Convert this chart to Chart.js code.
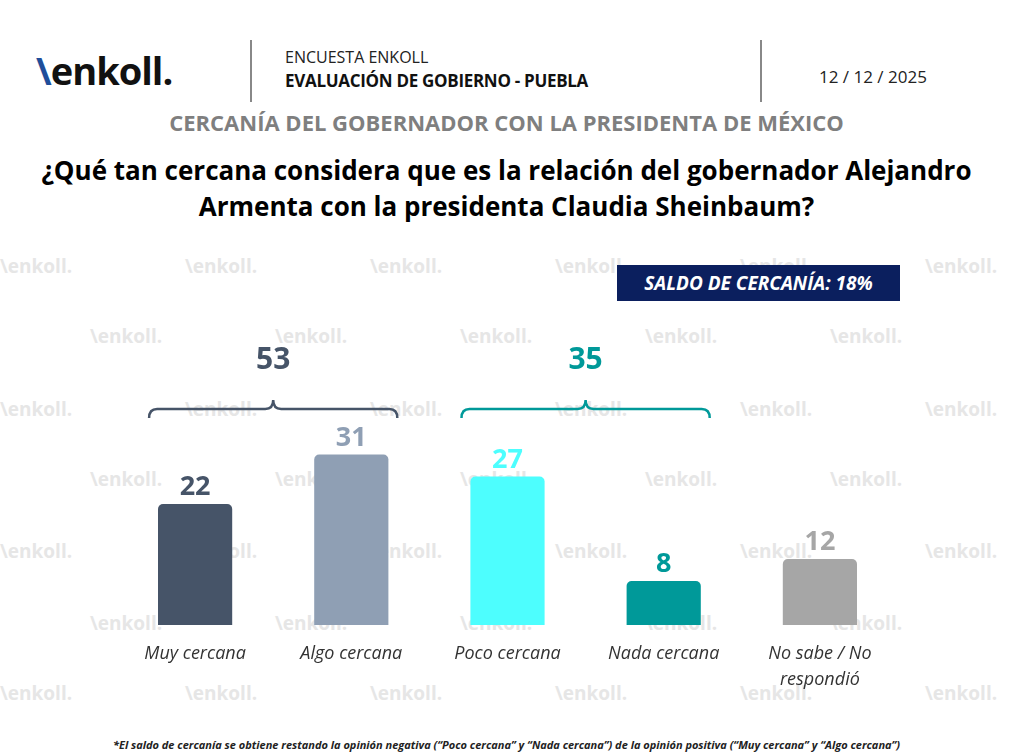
<!DOCTYPE html>
<html><head><meta charset="utf-8">
<script src="https://cdn.jsdelivr.net/npm/chart.js"></script>
<style>
body{margin:0;width:1013px;height:754px;background:#fff;font-family:"Open Sans",sans-serif;position:relative;overflow:hidden}
.a{position:absolute;white-space:nowrap}
.wm{position:absolute;font:bold 19px "Open Sans";color:#e6e6e6}
canvas{position:absolute;left:0;top:0}
</style></head><body>
<div id="wms"></div>
<div class="a" style="left:36px;top:44px;font:bold 38px 'Open Sans';color:#111;letter-spacing:-1px"><span style="color:#1f4e9a">\</span>enkoll.</div>
<div class="a" style="left:250px;top:40px;width:2px;height:62px;background:#888"></div>
<div class="a" style="left:760px;top:40px;width:2px;height:62px;background:#888"></div>
<div class="a" style="left:285px;top:46px;font:16px 'Open Sans';color:#222">ENCUESTA ENKOLL</div>
<div class="a" style="left:285px;top:69px;font:bold 17px 'Open Sans';color:#111;letter-spacing:-0.3px">EVALUACIÓN DE GOBIERNO - PUEBLA</div>
<div class="a" style="left:819px;top:65px;font:17px 'Open Sans';color:#222">12 / 12 / 2025</div>
<div class="a" style="left:0;width:1013px;text-align:center;top:107px;font:bold 22px 'Open Sans';color:#7f7f7f">CERCANÍA DEL GOBERNADOR CON LA PRESIDENTA DE MÉXICO</div>
<div class="a" style="left:0;width:1013px;text-align:center;top:152px;font:bold 26px/36px 'Open Sans';color:#000">¿Qué tan cercana considera que es la relación del gobernador Alejandro<br>Armenta con la presidenta Claudia Sheinbaum?</div>
<div class="a" style="left:617px;top:265px;width:283px;height:36px;background:#0b1f5e;color:#fff;font:italic bold 19px/36px 'Open Sans';text-align:center">SALDO DE CERCANÍA: 18%</div>
<div class="a" style="left:0;width:1013px;text-align:center;top:737px;font:italic bold 11px 'Open Sans';color:#222">*El saldo de cercanía se obtiene restando la opinión negativa (“Poco cercana” y “Nada cercana”) de la opinión positiva (“Muy cercana” y “Algo cercana”)</div>
<canvas id="c" width="1013" height="754"></canvas>
<script>
const categories = ["Muy cercana", "Algo cercana", "Poco cercana", "Nada cercana", ["No sabe / No", "respondió"]];
const values = [22, 31, 27, 8, 12];
const colors = ["#465468", "#8f9fb4", "#4dfefe", "#009999", "#a6a6a6"];
const groups = [{from: 0, to: 1, total: 53, color: "#465468"}, {from: 2, to: 3, total: 35, color: "#009999"}];

const wms = document.getElementById("wms");
[265, 335, 408, 478, 550, 622, 692].forEach((y, r) => {
  for (let x = (r % 2 ? 90 : 0); x < 1013; x += 185) {
    const d = document.createElement("div");
    d.className = "wm"; d.style.left = x + "px"; d.style.top = (y - 12) + "px";
    d.textContent = "\\enkoll."; wms.appendChild(d);
  }
});

const deco = {
  id: "deco",
  afterDatasetsDraw(chart) {
    const ctx = chart.ctx, xs = chart.scales.x, ys = chart.scales.y;
    ctx.save();
    ctx.textAlign = "center";
    values.forEach((v, i) => {
      const x = xs.getPixelForValue(i);
      ctx.fillStyle = colors[i];
      ctx.font = "bold 27px 'Open Sans'";
      ctx.textBaseline = "bottom";
      ctx.fillText(v, x, ys.getPixelForValue(v) - 3);
      ctx.fillStyle = "#333";
      ctx.font = "italic 18px 'Open Sans'";
      ctx.textBaseline = "middle";
      [].concat(categories[i]).forEach((l, k) => ctx.fillText(l, x, 654 + k * 26));
    });
    groups.forEach(g => {
      const x1 = xs.getPixelForValue(g.from) - 46, x2 = xs.getPixelForValue(g.to) + 46, m = (x1 + x2) / 2;
      const yl = 409, r = 8;
      ctx.strokeStyle = g.color; ctx.lineWidth = 2.5;
      ctx.beginPath();
      ctx.moveTo(x1, yl + 9);
      ctx.quadraticCurveTo(x1, yl, x1 + r, yl);
      ctx.lineTo(m - r, yl);
      ctx.quadraticCurveTo(m, yl, m, yl - 9);
      ctx.quadraticCurveTo(m, yl, m + r, yl);
      ctx.lineTo(x2 - r, yl);
      ctx.quadraticCurveTo(x2, yl, x2, yl + 9);
      ctx.stroke();
      ctx.fillStyle = g.color;
      ctx.font = "bold 30px 'Open Sans'";
      ctx.textBaseline = "middle";
      ctx.fillText(g.total, m, 360);
    });
    ctx.restore();
  }
};

new Chart(document.getElementById("c"), {
  type: "bar",
  data: {labels: categories, datasets: [{data: values, backgroundColor: colors, borderRadius: 5, borderSkipped: "bottom", barPercentage: 0.95, categoryPercentage: 0.5}]},
  options: {
    responsive: false, animation: false,
    layout: {padding: {left: 117, right: 115, top: 306, bottom: 129}},
    plugins: {legend: {display: false}, tooltip: {enabled: false}},
    scales: {x: {display: false}, y: {display: false, min: 0, max: 58}}
  },
  plugins: [deco]
});
</script>
</body></html>
